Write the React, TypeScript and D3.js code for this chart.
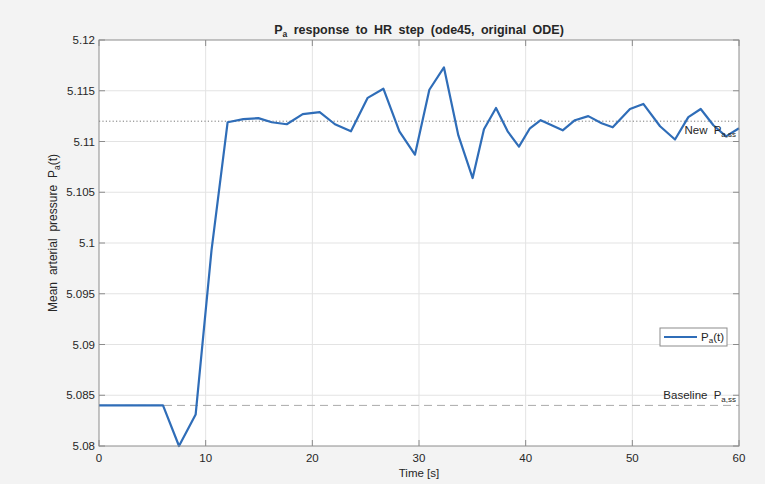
import React from 'react';
import * as d3 from 'd3';

const times = [0, 1.5, 3, 4.5, 6, 7.5, 9.06, 10.55, 12.06, 13.53, 14.94, 16.2, 17.6, 19.1, 20.69, 22.12, 23.62, 25.19, 26.66, 28.16, 29.62, 30.97, 32.34, 33.69, 35.03, 36.09, 37.22, 38.31, 39.37, 40.4, 41.41, 43.47, 44.62, 45.87, 47.12, 48.16, 49.78, 51.03, 52.6, 54.0, 55.25, 56.41, 57.6, 58.78, 60];
const pressure = [5.084, 5.084, 5.084, 5.084, 5.084, 5.080, 5.0831, 5.0993, 5.1119, 5.1122, 5.1123, 5.1119, 5.1117, 5.1127, 5.1129, 5.1117, 5.111, 5.1143, 5.1152, 5.111, 5.1087, 5.1151, 5.1173, 5.1106, 5.1064, 5.1112, 5.1133, 5.111, 5.1095, 5.1113, 5.1121, 5.1111, 5.1121, 5.1125, 5.1118, 5.1114, 5.1132, 5.1137, 5.1115, 5.1102, 5.1124, 5.1132, 5.1116, 5.1105, 5.1113];

const baselineSS = 5.084;
const newSS = 5.112;

const xTicks = [0, 10, 20, 30, 40, 50, 60];
const yTicks = [5.08, 5.085, 5.09, 5.095, 5.1, 5.105, 5.11, 5.115, 5.12];
const yTickLabels = ['5.08', '5.085', '5.09', '5.095', '5.1', '5.105', '5.11', '5.115', '5.12'];

const W = 765;
const H = 484;
const margin = { top: 40, right: 26, bottom: 38, left: 99 };
const font = 'Liberation Sans, Arial, Helvetica, sans-serif';

export default function App() {
  const iw = W - margin.left - margin.right;
  const ih = H - margin.top - margin.bottom;

  const x = d3.scaleLinear().domain([0, 60]).range([0, iw]);
  const y = d3.scaleLinear().domain([5.08, 5.12]).range([ih, 0]);

  const pts = times.map((t, i) => [t, pressure[i]] as [number, number]);
  const line = d3.line<[number, number]>().x(d => x(d[0])).y(d => y(d[1]));

  const tick = 6;
  const axisColor = '#8c8c8c';
  const textColor = '#262626';
  const blue = '#2f6db8';
  const fs = 11.5;

  return (
    <svg width={W} height={H} style={{ position: 'absolute', left: 0, top: 0 }} fontFamily={font}>
      <rect width={W} height={H} fill="#f3f3f3" />
      <text x={margin.left + iw / 2} y={34} textAnchor="middle" fontSize={12.5} fontWeight="bold" fill={textColor} wordSpacing={3}>
        P<tspan fontSize={8.5} dy={3}>a</tspan><tspan dy={-3}> response to HR step (ode45, original ODE)</tspan>
      </text>
      <g transform={`translate(${margin.left},${margin.top})`}>
        <rect width={iw} height={ih} fill="#fff" />
        {xTicks.slice(1, -1).map(t => (
          <line key={'gx' + t} x1={x(t)} x2={x(t)} y1={0} y2={ih} stroke="#e3e3e3" />
        ))}
        {yTicks.slice(1, -1).map(t => (
          <line key={'gy' + t} x1={0} x2={iw} y1={y(t)} y2={y(t)} stroke="#e3e3e3" />
        ))}
        <line x1={0} x2={iw} y1={y(newSS)} y2={y(newSS)} stroke="#777" strokeDasharray="1.2,2.2" />
        <line x1={0} x2={iw} y1={y(baselineSS)} y2={y(baselineSS)} stroke="#aaa" strokeDasharray="8,5" />
        <path d={line(pts) || ''} fill="none" stroke={blue} strokeWidth={2.2} strokeLinejoin="round" />
        <rect width={iw} height={ih} fill="none" stroke={axisColor} />
        {xTicks.map(t => (
          <g key={'tx' + t}>
            <line x1={x(t)} x2={x(t)} y1={ih} y2={ih - tick} stroke={axisColor} />
            <line x1={x(t)} x2={x(t)} y1={0} y2={tick} stroke={axisColor} />
            <text x={x(t)} y={ih + 16} textAnchor="middle" fontSize={fs} fill={textColor}>{t}</text>
          </g>
        ))}
        {yTicks.map((t, i) => (
          <g key={'ty' + t}>
            <line x1={0} x2={tick} y1={y(t)} y2={y(t)} stroke={axisColor} />
            <line x1={iw} x2={iw - tick} y1={y(t)} y2={y(t)} stroke={axisColor} />
            <text x={-4} y={y(t) + 4} textAnchor="end" fontSize={fs} fill={textColor}>{yTickLabels[i]}</text>
          </g>
        ))}
        <text x={iw - 3} y={y(newSS) + 13} textAnchor="end" fontSize={fs} fill={textColor} wordSpacing={3}>
          New P<tspan fontSize={8} dy={3}>a,ss</tspan>
        </text>
        <text x={iw - 3} y={y(baselineSS) - 6} textAnchor="end" fontSize={fs} fill={textColor} wordSpacing={3}>
          Baseline P<tspan fontSize={8} dy={3}>a,ss</tspan>
        </text>
        <g transform={`translate(${iw - 79},${288})`}>
          <rect width={67} height={18} fill="#fff" stroke="#8c8c8c" />
          <line x1={4} x2={37} y1={9} y2={9} stroke={blue} strokeWidth={2.2} />
          <text x={41} y={13} fontSize={fs} fill={textColor}>
            P<tspan fontSize={8} dy={2}>a</tspan><tspan dy={-2}>(t)</tspan>
          </text>
        </g>
        <text x={iw / 2} y={ih + 31} textAnchor="middle" fontSize={fs} fill={textColor}>Time [s]</text>
        <text transform={`translate(${-42},${ih / 2 - 10}) rotate(-90)`} textAnchor="middle" fontSize={12} fill={textColor} wordSpacing={3.5}>
          Mean arterial pressure P<tspan fontSize={8.5} dy={3}>a</tspan><tspan dy={-3}>(t)</tspan>
        </text>
      </g>
    </svg>
  );
}
